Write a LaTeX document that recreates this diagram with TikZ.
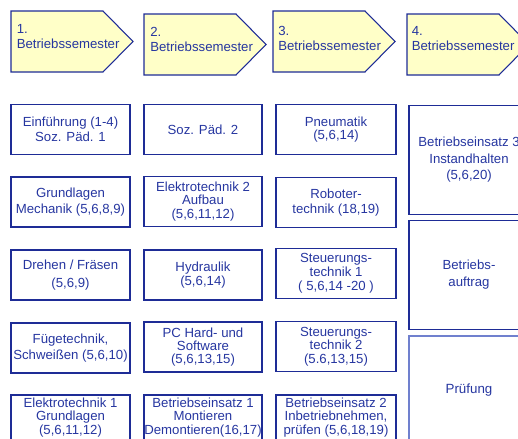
\documentclass[tikz,border=0pt]{standalone}
\usepackage{fontspec}
\setmainfont{Liberation Sans}
\usepackage{tikz}
\usetikzlibrary{positioning}
\usepackage{xcolor}

\definecolor{kursblau}{RGB}{38,54,160}
\definecolor{rahmenblau}{RGB}{30,44,150}
\definecolor{hellrahmen}{RGB}{112,128,206}
\definecolor{semgelb}{RGB}{255,255,200}

\tikzset{
  semester/.style={draw=rahmenblau, line width=0.8pt, fill=semgelb, line join=miter},
  semtext/.style={text=kursblau, align=left, inner sep=0pt, anchor=west,
    font=\fontsize{9.9}{11.25}\selectfont},
  fach/.style={draw=rahmenblau, line width=1pt, text=kursblau, align=center, inner sep=0pt,
    minimum height=37.5pt},
  spalteA/.style={fach, minimum width=89.25pt},
  spalteB/.style={fach, minimum width=88.5pt},
  spalteC/.style={fach, minimum width=90pt},
  spalteD/.style={fach, minimum width=90pt, minimum height=81.5pt},
  zs/.style={font=\fontsize{9.9}{#1}\selectfont},
}

\begin{document}
\begin{tikzpicture}[x=0.75pt,y=-0.75pt]
\clip (0,0) rectangle (518,439);

% Semester
\draw[semester] (11,11) coordinate (sem1) --++(92,0)--++(30,30.5)--++(-30,30.5)--++(-92,0)--cycle;
\draw[semester] (144,14) coordinate (sem2) --++(92,0)--++(30,30.5)--++(-30,30.5)--++(-92,0)--cycle;
\draw[semester] (273,11) coordinate (sem3) --++(92,0)--++(30,30.5)--++(-30,30.5)--++(-92,0)--cycle;
\draw[semester] (407,14) coordinate (sem4) --++(92,0)--++(30,30.5)--++(-30,30.5)--++(-92,0)--cycle;

\node[semtext] (t1) at (16.5,36.5) {1.\\Betriebssemester};
\node[semtext] (t2) at (150,39.5) {2.\\Betriebssemester};
\node[semtext] (t3) at (278,38.7) {3.\\Betriebssemester};
\node[semtext] (t4) at (411.5,38.7) {4.\\Betriebssemester};

% 1. Semester
\node[spalteA, zs=11.25pt] (einf) at (70.5,129.5) {Einführung (1-4)\\Soz. Päd. 1};
\node[spalteA, zs=12pt] (grund) at (70.5,202) {Grundlagen\\Mechanik (5,6,8,9)};
\node[spalteA, zs=13.9pt] (dreh) at (70.5,275) {Drehen / Fräsen\\(5,6,9)};
\node[spalteA, zs=12pt] (fuege) at (70.5,348) {Fügetechnik,\\Schweißen (5,6,10)};
\node[spalteA, zs=9.9pt, minimum height=34pt] (etech1) at (70.5,417.5) {Elektrotechnik 1\\Grundlagen\\(5,6,11,12)};

% 2. Semester
\node[spalteB, zs=11pt] (soz2) at (203,129.5) {Soz. Päd. 2};
\node[spalteB, zs=9.9pt] (etech2) at (203,201.5) {Elektrotechnik 2\\Aufbau\\(5,6,11,12)};
\node[spalteB, zs=8.9pt] (hydr) at (203,275) {Hydraulik\\(5,6,14)};
\node[spalteB, zs=9.9pt] (pc) at (203,347) {PC Hard- und\\Software\\(5,6,13,15)};
\node[spalteB, zs=10.1pt, minimum height=34pt] (einsatz1) at (203,417.5) {Betriebseinsatz 1\\Montieren\\Demontieren(16,17)};

% 3. Semester
\node[spalteC, zs=9.9pt] (pneu) at (336,129.5) {Pneumatik\\(5,6,14)};
\node[spalteC, zs=11.25pt] (robo) at (336,202.5) {Roboter-\\technik (18,19)};
\node[spalteC, zs=10.4pt] (steu1) at (336,273.5) {Steuerungs-\\technik 1\\( 5,6,14 -20 )};
\node[spalteC, zs=10.1pt] (steu2) at (336,346.5) {Steuerungs-\\technik 2\\(5.6,13,15)};
\node[spalteC, zs=10.1pt, minimum height=34pt] (einsatz2) at (336,417.5) {Betriebseinsatz 2\\Inbetriebnehmen,\\prüfen (5,6,18,19)};

% 4. Semester
\node[spalteD, zs=12.4pt] (einsatz3) at (469,160) {Betriebseinsatz 3\\Instandhalten\\(5,6,20)};
\node[spalteD, zs=12.8pt] (auftrag) at (469,275) {Betriebs-\\auftrag};
\node[spalteD, draw=hellrahmen, line width=1.3pt] (pruef) at (469,390.5) {Prüfung};

\end{tikzpicture}
\end{document}
